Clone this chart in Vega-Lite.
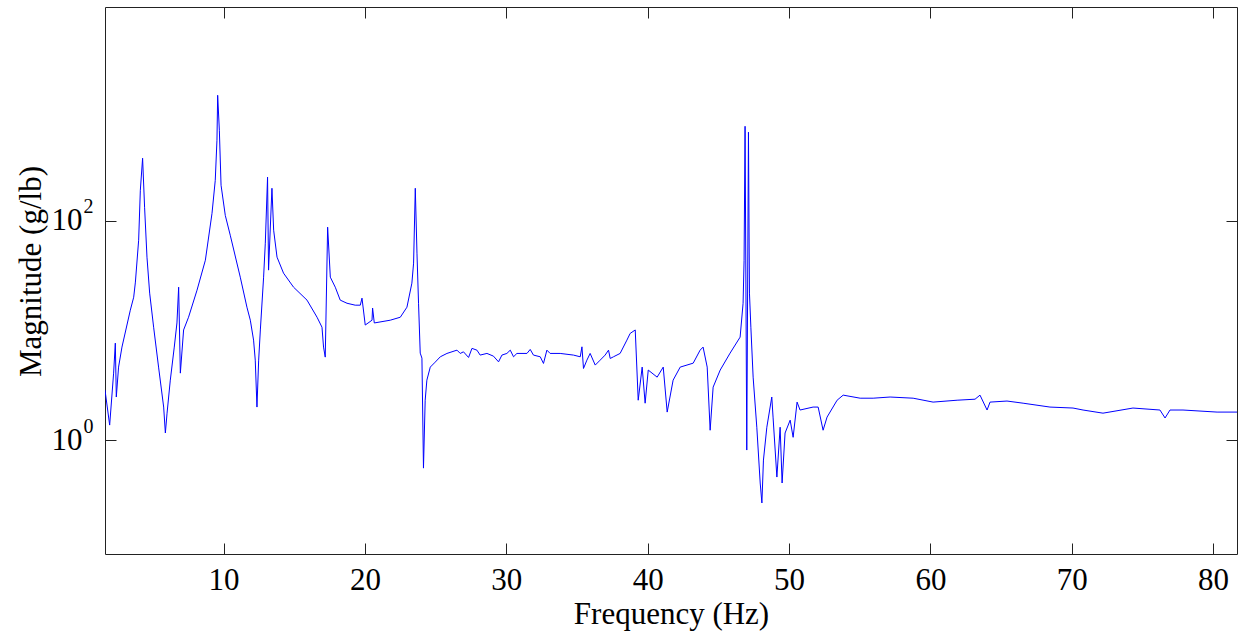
{
  "$schema": "https://vega.github.io/schema/vega-lite/v6.json",
  "width": 1132,
  "height": 547,
  "autosize": {"type": "none"},
  "padding": {"left": 105, "top": 7, "right": 7, "bottom": 78},
  "background": "white",
  "config": {
    "view": {"stroke": null},
    "axis": {
      "grid": false,
      "labelFont": "Liberation Serif",
      "labelFontSize": 31,
      "labelColor": "#000000",
      "titleFont": "Liberation Serif",
      "titleFontSize": 31,
      "titleFontWeight": "normal",
      "titleColor": "#000000",
      "domainColor": "#222222",
      "domainWidth": 1,
      "tickColor": "#222222",
      "tickWidth": 1,
      "tickSize": -11
    }
  },
  "data": {
    "values": [
      {"f": 1.61, "m": 2.86}, {"f": 1.94, "m": 1.37}, {"f": 2.22, "m": 4.08}, {"f": 2.34, "m": 7.66},
      {"f": 2.41, "m": 2.47}, {"f": 2.57, "m": 4.63}, {"f": 2.81, "m": 7.05}, {"f": 3.40, "m": 15.3},
      {"f": 3.64, "m": 20.1}, {"f": 3.76, "m": 27.6}, {"f": 3.99, "m": 66.5}, {"f": 4.11, "m": 190},
      {"f": 4.27, "m": 372}, {"f": 4.41, "m": 133}, {"f": 4.58, "m": 46.6}, {"f": 4.77, "m": 21.9},
      {"f": 5.05, "m": 10.7}, {"f": 5.40, "m": 4.63}, {"f": 5.76, "m": 2.00}, {"f": 5.88, "m": 1.16},
      {"f": 6.00, "m": 1.76}, {"f": 6.23, "m": 3.52}, {"f": 6.51, "m": 7.05}, {"f": 6.70, "m": 11.7},
      {"f": 6.82, "m": 24.8}, {"f": 6.94, "m": 4.08}, {"f": 7.17, "m": 10.1}, {"f": 7.52, "m": 13.2},
      {"f": 8.12, "m": 23.3}, {"f": 8.71, "m": 43.7}, {"f": 9.18, "m": 117}, {"f": 9.41, "m": 234},
      {"f": 9.53, "m": 543}, {"f": 9.58, "m": 1396}, {"f": 9.70, "m": 670}, {"f": 9.82, "m": 211},
      {"f": 10.12, "m": 112}, {"f": 10.47, "m": 73.9}, {"f": 11.18, "m": 30.6}, {"f": 11.65, "m": 16.3},
      {"f": 11.89, "m": 12.4}, {"f": 12.12, "m": 8.16}, {"f": 12.24, "m": 5.36}, {"f": 12.36, "m": 2.00},
      {"f": 12.48, "m": 5.36}, {"f": 12.60, "m": 10.1}, {"f": 12.83, "m": 30.6}, {"f": 12.95, "m": 62.5},
      {"f": 13.11, "m": 250}, {"f": 13.18, "m": 35.5}, {"f": 13.42, "m": 198}, {"f": 13.54, "m": 82.1},
      {"f": 13.78, "m": 46.6}, {"f": 14.24, "m": 33.3}, {"f": 14.95, "m": 24.8}, {"f": 15.90, "m": 18.9},
      {"f": 16.61, "m": 13.2}, {"f": 16.96, "m": 10.7}, {"f": 17.07, "m": 7.05}, {"f": 17.19, "m": 5.71},
      {"f": 17.36, "m": 87.5}, {"f": 17.55, "m": 30.6}, {"f": 17.90, "m": 24.8}, {"f": 18.25, "m": 18.9},
      {"f": 18.73, "m": 17.7}, {"f": 19.31, "m": 17.0}, {"f": 19.67, "m": 17.0}, {"f": 19.79, "m": 19.7},
      {"f": 20.02, "m": 11.2}, {"f": 20.50, "m": 12.4}, {"f": 20.54, "m": 16.0}, {"f": 20.66, "m": 11.7},
      {"f": 21.79, "m": 12.4}, {"f": 22.50, "m": 13.2}, {"f": 22.97, "m": 16.3}, {"f": 23.32, "m": 27.0},
      {"f": 23.44, "m": 41.1}, {"f": 23.56, "m": 198}, {"f": 23.68, "m": 50.7}, {"f": 23.79, "m": 17.7},
      {"f": 23.91, "m": 6.21}, {"f": 24.03, "m": 5.59}, {"f": 24.14, "m": 0.555}, {"f": 24.26, "m": 2.31},
      {"f": 24.38, "m": 3.52}, {"f": 24.62, "m": 4.63}, {"f": 24.97, "m": 5.14}, {"f": 25.33, "m": 5.75},
      {"f": 25.80, "m": 6.17}, {"f": 26.51, "m": 6.61}, {"f": 26.74, "m": 6.17}, {"f": 26.97, "m": 6.38},
      {"f": 27.33, "m": 5.67}, {"f": 27.57, "m": 6.86}, {"f": 27.92, "m": 6.61}, {"f": 28.15, "m": 5.96},
      {"f": 28.63, "m": 6.17}, {"f": 29.09, "m": 5.83}, {"f": 29.45, "m": 5.17}, {"f": 29.69, "m": 5.96},
      {"f": 30.04, "m": 6.17}, {"f": 30.28, "m": 6.61}, {"f": 30.51, "m": 5.75}, {"f": 30.75, "m": 6.17},
      {"f": 31.46, "m": 6.17}, {"f": 31.69, "m": 6.71}, {"f": 31.92, "m": 5.96}, {"f": 32.40, "m": 5.75},
      {"f": 32.63, "m": 5.00}, {"f": 32.87, "m": 6.61}, {"f": 33.10, "m": 6.17}, {"f": 33.81, "m": 6.17},
      {"f": 34.75, "m": 5.96}, {"f": 35.23, "m": 5.75}, {"f": 35.35, "m": 7.09}, {"f": 35.46, "m": 4.50},
      {"f": 35.70, "m": 5.36}, {"f": 35.93, "m": 6.17}, {"f": 36.29, "m": 4.83}, {"f": 36.64, "m": 5.36},
      {"f": 36.99, "m": 5.96}, {"f": 37.23, "m": 6.61}, {"f": 37.35, "m": 5.55}, {"f": 37.58, "m": 5.75},
      {"f": 38.05, "m": 6.17}, {"f": 38.53, "m": 8.16}, {"f": 38.76, "m": 9.39}, {"f": 39.12, "m": 10.1},
      {"f": 39.33, "m": 2.31}, {"f": 39.61, "m": 4.63}, {"f": 39.82, "m": 2.17}, {"f": 40.04, "m": 4.35},
      {"f": 40.67, "m": 3.75}, {"f": 41.10, "m": 4.63}, {"f": 41.38, "m": 1.80}, {"f": 41.80, "m": 3.52},
      {"f": 42.30, "m": 4.63}, {"f": 43.22, "m": 5.03}, {"f": 43.71, "m": 6.61}, {"f": 43.92, "m": 7.05},
      {"f": 44.21, "m": 4.63}, {"f": 44.42, "m": 1.23}, {"f": 44.63, "m": 3.04}, {"f": 45.13, "m": 4.35},
      {"f": 45.83, "m": 6.21}, {"f": 46.54, "m": 8.69}, {"f": 46.75, "m": 17.7}, {"f": 46.82, "m": 43.7},
      {"f": 46.89, "m": 728}, {"f": 47.01, "m": 0.811}, {"f": 47.13, "m": 643}, {"f": 47.20, "m": 21.9},
      {"f": 47.30, "m": 10.7}, {"f": 47.46, "m": 3.75}, {"f": 47.72, "m": 1.31}, {"f": 47.96, "m": 0.406},
      {"f": 48.08, "m": 0.267}, {"f": 48.19, "m": 0.657}, {"f": 48.43, "m": 1.31}, {"f": 48.78, "m": 2.47},
      {"f": 48.87, "m": 1.62}, {"f": 49.14, "m": 0.460}, {"f": 49.37, "m": 1.31}, {"f": 49.51, "m": 0.406},
      {"f": 49.72, "m": 1.16}, {"f": 50.08, "m": 1.52}, {"f": 50.29, "m": 1.06}, {"f": 50.57, "m": 2.22},
      {"f": 50.78, "m": 1.88}, {"f": 51.70, "m": 2.00}, {"f": 52.06, "m": 2.00}, {"f": 52.41, "m": 1.23},
      {"f": 52.69, "m": 1.62}, {"f": 53.40, "m": 2.31}, {"f": 53.83, "m": 2.57}, {"f": 55.03, "m": 2.41},
      {"f": 55.95, "m": 2.41}, {"f": 57.15, "m": 2.47}, {"f": 58.78, "m": 2.41}, {"f": 60.19, "m": 2.22},
      {"f": 61.89, "m": 2.31}, {"f": 63.16, "m": 2.36}, {"f": 63.51, "m": 2.57}, {"f": 64.01, "m": 1.88},
      {"f": 64.22, "m": 2.22}, {"f": 65.42, "m": 2.27}, {"f": 66.56, "m": 2.17}, {"f": 68.46, "m": 2.00},
      {"f": 70.09, "m": 1.96}, {"f": 70.80, "m": 1.88}, {"f": 72.21, "m": 1.76}, {"f": 74.33, "m": 1.96},
      {"f": 76.24, "m": 1.88}, {"f": 76.60, "m": 1.59}, {"f": 76.95, "m": 1.88}, {"f": 77.87, "m": 1.88},
      {"f": 80.28, "m": 1.80}, {"f": 81.69, "m": 1.80}
    ]
  },
  "layer": [
    {
      "mark": {"type": "line", "color": "#0000ff", "strokeWidth": 1, "clip": true},
      "encoding": {
        "x": {
          "field": "f", "type": "quantitative",
          "scale": {"domain": [1.61, 81.69], "nice": false, "zero": false},
          "axis": {"orient": "bottom", "values": [10, 20, 30, 40, 50, 60, 70, 80], "title": "Frequency (Hz)", "labelPadding": 22, "titlePadding": 4}
        },
        "y": {
          "field": "m", "type": "quantitative",
          "scale": {"type": "log", "domain": [0.0914, 8913], "nice": false},
          "axis": {"orient": "left", "values": [1, 100], "labelExpr": "'10'", "title": "Magnitude (g/lb)", "labelPadding": 34, "titlePadding": 4, "titleY": 264}
        }
      }
    },
    {
      "mark": {"type": "line", "opacity": 0},
      "encoding": {
        "x": {
          "field": "f", "type": "quantitative",
          "scale": {"domain": [1.61, 81.69], "nice": false, "zero": false},
          "axis": {"orient": "top", "values": [10, 20, 30, 40, 50, 60, 70, 80], "labels": false, "title": null}
        },
        "y": {
          "field": "m", "type": "quantitative",
          "scale": {"type": "log", "domain": [0.0914, 8913], "nice": false},
          "axis": {"orient": "right", "values": [1, 100], "labels": false, "title": null}
        }
      }
    },
    {
      "mark": {"type": "line", "opacity": 0},
      "encoding": {
        "x": {
          "field": "f", "type": "quantitative",
          "scale": {"domain": [1.61, 81.69], "nice": false, "zero": false},
          "axis": null
        },
        "y": {
          "field": "m", "type": "quantitative",
          "scale": {"type": "log", "domain": [0.0914, 8913], "nice": false},
          "axis": {"orient": "left", "values": [1, 100], "labelExpr": "datum.value >= 100 ? '2' : '0'", "labelFontSize": 20, "labelPadding": 12, "labelOffset": -14, "ticks": false, "domain": false, "title": null}
        }
      }
    }
  ],
  "resolve": {"axis": {"x": "independent", "y": "independent"}}
}
